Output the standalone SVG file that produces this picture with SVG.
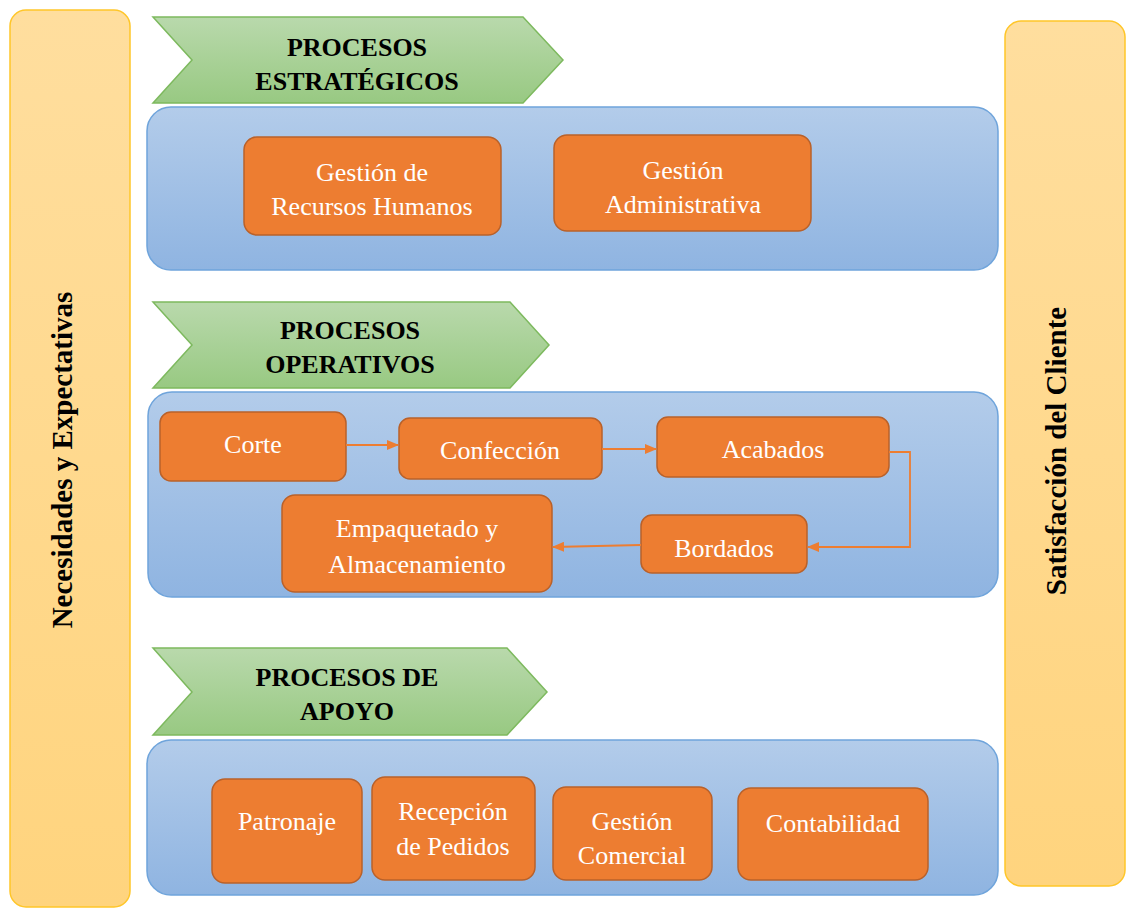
<svg xmlns="http://www.w3.org/2000/svg" width="1126" height="909" viewBox="0 0 1126 909">
<style>
.bar{stroke:#FFC629;stroke-width:1.5;fill:url(#gy)}
.panel{stroke:#6FA4DB;stroke-width:1.5;fill:url(#gb)}
.chev{stroke:#7DB95E;stroke-width:1.5;fill:url(#gg)}
.node{fill:#ED7D31;stroke:#B9612A;stroke-width:1.5}
text{font-family:'Liberation Serif','DejaVu Serif',serif}
.nt{font-size:26px;fill:#FFFFFF;text-anchor:middle}
.ht{font-size:26px;font-weight:bold;fill:#000000;text-anchor:middle}
.vt{font-size:29px;font-weight:bold;fill:#000000;text-anchor:middle}
.conn{fill:none;stroke:#ED7D31;stroke-width:1.8}
</style>
<defs>
<linearGradient id="gy" x1="0" y1="0" x2="0" y2="1"><stop offset="0" stop-color="#FFDE9E"/><stop offset="1" stop-color="#FFD47E"/></linearGradient>
<linearGradient id="gb" x1="0" y1="0" x2="0" y2="1"><stop offset="0" stop-color="#B3CCEA"/><stop offset="1" stop-color="#8FB4E1"/></linearGradient>
<linearGradient id="gg" x1="0" y1="0" x2="0" y2="1"><stop offset="0" stop-color="#B9D9AC"/><stop offset="1" stop-color="#98C982"/></linearGradient>
<marker id="arr" markerWidth="12" markerHeight="10" refX="11" refY="5" orient="auto" markerUnits="userSpaceOnUse"><path d="M0,0 L12,5 L0,10 Z" fill="#ED7D31"/></marker>
</defs>
<rect width="1126" height="909" fill="#FFFFFF"/>

<g id="necesidades">
<rect class="bar" x="10" y="10" width="120" height="897" rx="16"/>
<text class="vt" transform="translate(72,460) rotate(-90)">Necesidades y Expectativas</text>
</g>
<g id="satisfaccion">
<rect class="bar" x="1005" y="21" width="120" height="865" rx="16"/>
<text class="vt" transform="translate(1066,451) rotate(-90)">Satisfacción del Cliente</text>
</g>

<g id="panel-estrategicos"><rect class="panel" x="147" y="107" width="851" height="163" rx="24"/></g>
<g id="panel-operativos"><rect class="panel" x="148" y="392" width="850" height="205" rx="24"/></g>
<g id="panel-apoyo"><rect class="panel" x="147" y="740" width="851" height="155" rx="24"/></g>

<g id="hdr-estrategicos">
<polygon class="chev" points="153,17 523,17 563,60 523,103 153,103 192,60"/>
<text class="ht" x="357" y="56">PROCESOS</text>
<text class="ht" x="357" y="90">ESTRATÉGICOS</text>
</g>
<g id="hdr-operativos">
<polygon class="chev" points="153,302 510,302 549,345 510,388 153,388 192,345"/>
<text class="ht" x="350" y="339">PROCESOS</text>
<text class="ht" x="350" y="373">OPERATIVOS</text>
</g>
<g id="hdr-apoyo">
<polygon class="chev" points="153,648 507,648 547,692 507,735 153,735 192,692"/>
<text class="ht" x="347" y="686">PROCESOS DE</text>
<text class="ht" x="347" y="720">APOYO</text>
</g>

<g id="rrhh"><rect class="node" x="244" y="137" width="257" height="98" rx="13"/>
<text class="nt" x="372" y="181">Gestión de</text><text class="nt" x="372" y="215">Recursos Humanos</text></g>
<g id="administrativa"><rect class="node" x="554" y="135" width="257" height="96" rx="13"/>
<text class="nt" x="683" y="179">Gestión</text><text class="nt" x="683" y="213">Administrativa</text></g>

<g id="corte"><rect class="node" x="160" y="412" width="186" height="69" rx="11"/>
<text class="nt" x="253" y="453">Corte</text></g>
<g id="confeccion"><rect class="node" x="399" y="418" width="203" height="61" rx="11"/>
<text class="nt" x="500" y="459">Confección</text></g>
<g id="acabados"><rect class="node" x="657" y="417" width="232" height="60" rx="11"/>
<text class="nt" x="773" y="458">Acabados</text></g>
<g id="bordados"><rect class="node" x="641" y="515" width="166" height="58" rx="11"/>
<text class="nt" x="724" y="557">Bordados</text></g>
<g id="empaquetado"><rect class="node" x="282" y="495" width="270" height="97" rx="13"/>
<text class="nt" x="417" y="537">Empaquetado y</text><text class="nt" x="417" y="573">Almacenamiento</text></g>

<g id="patronaje"><rect class="node" x="212" y="779" width="150" height="104" rx="13"/>
<text class="nt" x="287" y="830">Patronaje</text></g>
<g id="recepcion"><rect class="node" x="372" y="777" width="163" height="103" rx="13"/>
<text class="nt" x="453" y="820">Recepción</text><text class="nt" x="453" y="855">de Pedidos</text></g>
<g id="comercial"><rect class="node" x="553" y="787" width="159" height="93" rx="13"/>
<text class="nt" x="632" y="830">Gestión</text><text class="nt" x="632" y="864">Comercial</text></g>
<g id="contabilidad"><rect class="node" x="738" y="788" width="190" height="92" rx="13"/>
<text class="nt" x="833" y="832">Contabilidad</text></g>

<g id="connectors">
<path class="conn" d="M346,445 L398,445" marker-end="url(#arr)"/>
<path class="conn" d="M602,449 L656,449" marker-end="url(#arr)"/>
<path class="conn" d="M889,452 L910,452 L910,547 L808,547" marker-end="url(#arr)"/>
<path class="conn" d="M641,545 L553,547" marker-end="url(#arr)"/>
</g>
</svg>
